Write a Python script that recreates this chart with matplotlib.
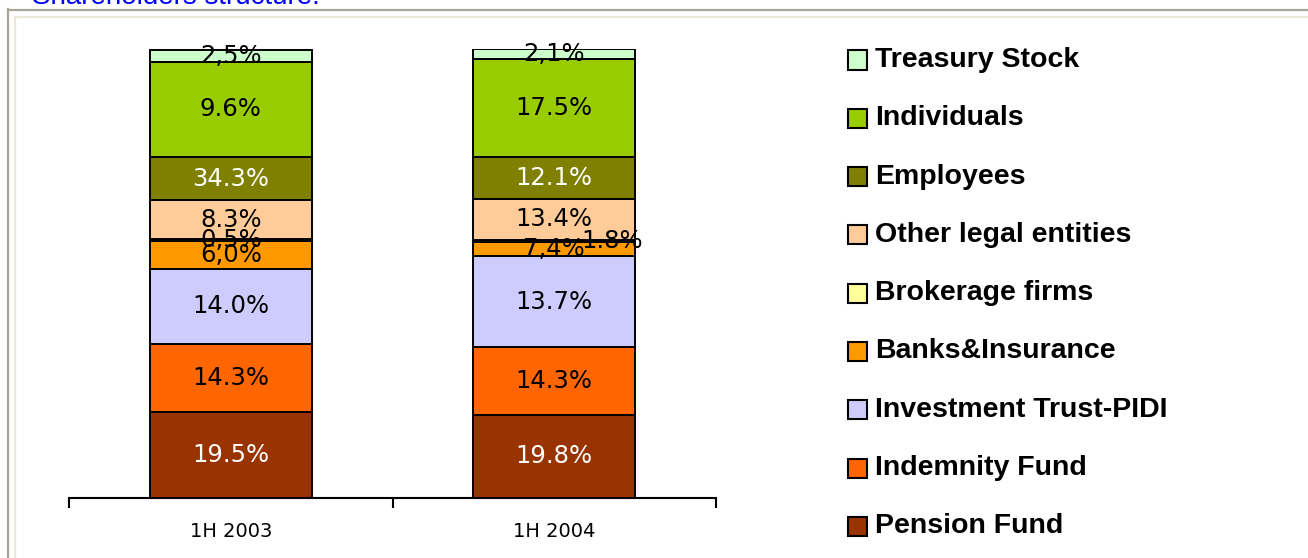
import matplotlib
matplotlib.use("Agg")
import matplotlib.pyplot as plt
from matplotlib.lines import Line2D
from matplotlib.patches import Rectangle
import numpy as np

# categories and series (bottom -> top), heights
PERIODS = ["1H 2003", "1H 2004"]
SERIES = ["Pension Fund", "Indemnity Fund", "Investment Trust-PIDI", "Banks&Insurance",
          "Brokerage firms", "Other legal entities", "Employees", "Individuals", "Treasury Stock"]
HEIGHTS_2003 = [19.1, 15.1, 16.9, 6.1, 0.4, 8.7, 9.7, 21.2, 2.6]
HEIGHTS_2004 = [18.4, 15.2, 20.2, 3.2, 0.4, 9.3, 9.4, 21.7, 2.3]
# printed labels as they appear on the chart
LABELS_2003 = ["19.5%", "14.3%", "14.0%", "6,0%", "0,5%", "8.3%", "34.3%", "9.6%", "2,5%"]
LABELS_2004 = ["19.8%", "14.3%", "13.7%", "7,4%", "1.8%", "13.4%", "12.1%", "17.5%", "2,1%"]

COLORS = ["#993300", "#FF6600", "#CCCCFF", "#FF9900", "#FFFF99",
          "#FFCC99", "#808000", "#99CC00", "#CCFFCC"]
WHITE_TEXT = {"Pension Fund", "Employees"}

W, H = 1308, 558
fig = plt.figure(figsize=(W / 100, H / 100), dpi=100)
fig.patch.set_facecolor("white")

# outer frame
fig.add_artist(Line2D([8 / W, 8 / W], [0, 1 - 9 / H], color="#a8a496", lw=1.6, transform=fig.transFigure))
fig.add_artist(Line2D([8 / W, 1], [1 - 10 / H, 1 - 10 / H], color="#a8a496", lw=1.6, transform=fig.transFigure))
fig.add_artist(Line2D([14.5 / W, 14.5 / W], [0, 1 - 17 / H], color="#ece9d8", lw=1.6, transform=fig.transFigure))
fig.add_artist(Line2D([14.5 / W, 1], [1 - 17 / H, 1 - 17 / H], color="#ece9d8", lw=1.6, transform=fig.transFigure))

fig.text(32 / W, 1 - 4 / H, "Shareholders structure.", color="#0000FF", fontsize=20,
         family="Liberation Sans", va="baseline", ha="left")

ax = fig.add_axes([69 / W, 60.5 / H, 647 / W, 448.5 / H])
x = np.arange(len(PERIODS))
data = np.array([HEIGHTS_2003, HEIGHTS_2004]).T
labels = [LABELS_2003, LABELS_2004]

bottom = np.zeros(len(PERIODS))
for i, name in enumerate(SERIES):
    vals = data[i]
    bars = ax.bar(x, vals, width=0.5, bottom=bottom, color=COLORS[i],
                  edgecolor="black", linewidth=1.4, label=name, zorder=2)
    for j, b in enumerate(bars):
        cx = b.get_x() + b.get_width() / 2
        cy = bottom[j] + vals[j] / 2
        txt = labels[j][i]
        if j == 1 and name == "Brokerage firms":
            cx += 0.18  # this one sits off to the right
        ax.text(cx, cy, txt, ha="center", va="center", fontsize=17.5,
                color="white" if name in WHITE_TEXT else "black", zorder=3)
    bottom += vals

ax.set_xlim(-0.5, 1.5)
ax.set_ylim(0, 100.1)
for s in ["left", "right", "top"]:
    ax.spines[s].set_visible(False)
ax.spines["bottom"].set_linewidth(1.5)
ax.set_yticks([])
ax.set_xticks([-0.5, 0.5, 1.5])
ax.set_xticklabels([])
ax.tick_params(axis="x", direction="out", length=7, width=1.5)
for xi, p in zip(x, PERIODS):
    ax.text(xi, -0.075, p, transform=ax.get_xaxis_transform(), ha="center", va="center",
            fontsize=14)

# legend, top to bottom
sq = 19
for k, name in enumerate(SERIES[::-1]):
    yc = 60 + k * 58.3
    idx = SERIES.index(name)
    fig.add_artist(Rectangle((848 / W, 1 - (yc + sq / 2) / H), sq / W, sq / H,
                             facecolor=COLORS[idx], edgecolor="black", lw=1.5,
                             transform=fig.transFigure))
    fig.text(875 / W, 1 - yc / H, name, fontsize=20.5, fontweight="bold",
             family="Liberation Sans", va="center", ha="left")

fig.savefig("out.png", dpi=100)
